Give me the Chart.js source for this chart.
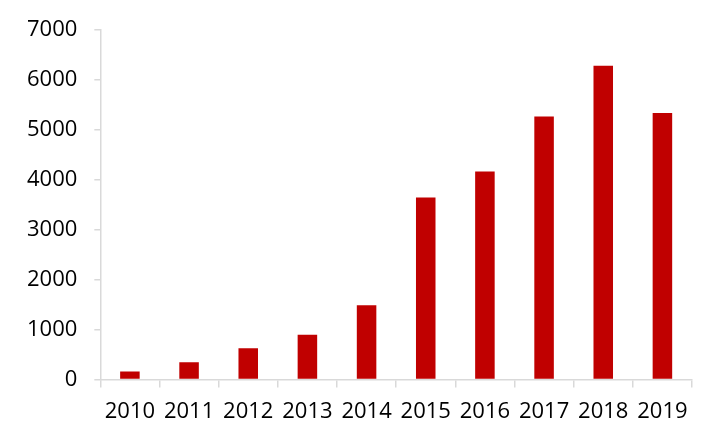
<!DOCTYPE html>
<html>
<head>
<meta charset="utf-8">
<script src="https://cdn.jsdelivr.net/npm/chart.js@4"></script>
<style>
  html, body { margin: 0; padding: 0; background: #ffffff; }
  #wrap { width: 718px; height: 439px; }
</style>
</head>
<body>
<div id="wrap"><canvas id="myChart" width="718" height="439"></canvas></div>
<script>
const anios = ["2010", "2011", "2012", "2013", "2014", "2015", "2016", "2017", "2018", "2019"];
const valores = [160, 350, 630, 900, 1490, 3650, 4170, 5270, 6290, 5340];
const ejeY = [0, 1000, 2000, 3000, 4000, 5000, 6000, 7000];

const colorEje = "#d9d9d9";
const fuente = { family: "'Open Sans', 'Noto Sans', sans-serif", size: 22 };

function cargarGrafico() {
    const canvas = document.getElementById("myChart");
    const config = {
        type: "bar",
        data: {
            labels: anios,
            datasets: [
                {
                    data: valores,
                    backgroundColor: "#c00000",
                    barPercentage: 0.33,
                    categoryPercentage: 1
                }
            ]
        },
        options: {
            responsive: false,
            animation: false,
            layout: { padding: { left: 10, right: 26, top: 30, bottom: 3 } },
            plugins: { legend: { display: false }, tooltip: { enabled: false } },
            scales: {
                x: {
                    grid: { drawOnChartArea: false, tickLength: 8, color: colorEje, lineWidth: 1.5 },
                    border: { color: colorEje, width: 1.5 },
                    ticks: { color: "#000000", font: fuente, padding: 11, maxRotation: 0 }
                },
                y: {
                    min: ejeY[0],
                    max: ejeY[ejeY.length - 1],
                    afterBuildTicks: (eje) => {
                        eje.ticks = ejeY.map((v) => ({ value: v }));
                    },
                    grid: { drawOnChartArea: false, tickLength: 6, color: colorEje, lineWidth: 1.5 },
                    border: { color: colorEje, width: 1.5 },
                    ticks: {
                        color: "#000000",
                        font: fuente,
                        padding: 17,
                        callback: (valor) => String(valor)
                    }
                }
            }
        }
    };
    new Chart(canvas, config);
}
cargarGrafico();
</script>
</body>
</html>
